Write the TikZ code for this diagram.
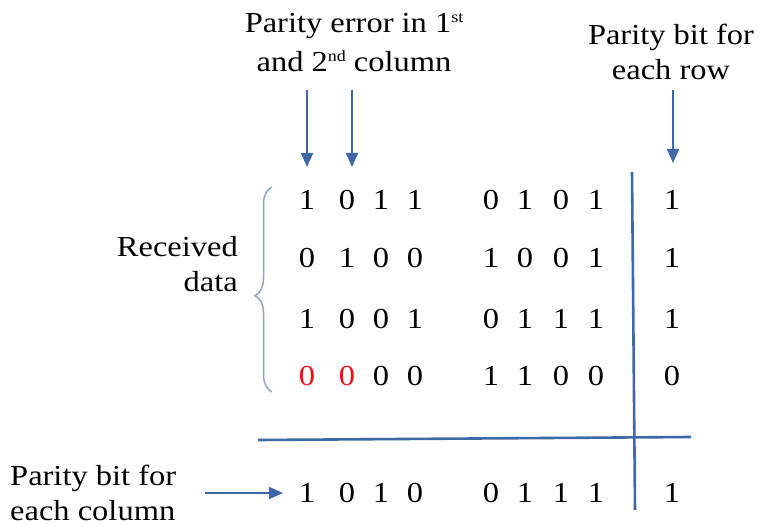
\documentclass[tikz,border=0pt]{standalone}
\usepackage{fontspec}
\setmainfont{Liberation Serif}[FakeStretch=1.12]
\usetikzlibrary{arrows.meta,decorations.pathreplacing}
\definecolor{lineblue}{HTML}{3F68A8}
\definecolor{braceblue}{HTML}{8CA6CC}
\definecolor{errred}{HTML}{F01010}
\newcommand\supx[1]{\raisebox{10pt}{\fontsize{16}{16}\selectfont #1}}
\newcommand\bitrow[3]{%
  \foreach \b [count=\i] in {#3} {%
    \pgfmathsetmacro\xx{{307,347,381,415,491,525,561,596,672}[\i-1]}%
    \node[bit] (#1-\i) at (\xx,#2) {\b};}}
\begin{document}
\begin{tikzpicture}[x=1pt,y=-1pt,
  lbl/.style={font=\fontsize{29}{35}\selectfont, inner sep=0pt, anchor=base},
  bit/.style={font=\fontsize{29}{35}\selectfont, inner sep=0pt, anchor=base},
  ptr/.style={draw=lineblue, line width=2pt, -{Triangle[length=14pt,width=12pt]}},
  rule/.style={draw=lineblue, line width=2.6pt}]
\useasboundingbox (0,0) rectangle (765,526);
% labels
\node[lbl] (t1a) at (354,33) {Parity error in 1\supx{st}};
\node[lbl] (t1b) at (354,72) {and 2\supx{nd} column};
\node[lbl] (t2a) at (671,45) {Parity bit for};
\node[lbl] (t2b) at (671,80) {each row};
\node[lbl, anchor=base east] (r1) at (238,257) {Received};
\node[lbl, anchor=base east] (r2) at (238,292) {data};
\node[lbl, anchor=base west] (c1) at (10,485) {Parity bit for};
\node[lbl, anchor=base west] (c2) at (10,520) {each column};
% bits
\bitrow{ra}{210}{1,0,1,1,0,1,0,1,1}
\bitrow{rb}{268}{0,1,0,0,1,0,0,1,1}
\bitrow{rc}{328}{1,0,0,1,0,1,1,1,1}
\bitrow{rd}{385}{{\textcolor{errred}{0}},{\textcolor{errred}{0}},0,0,1,1,0,0,0}
\bitrow{re}{502}{1,0,1,0,0,1,1,1,1}
% arrows
\coordinate (a1s) at (307,90);  \coordinate (a1e) at (307,167);
\coordinate (a2s) at (352,90);  \coordinate (a2e) at (352,167);
\coordinate (a3s) at (673,90);  \coordinate (a3e) at (673,163);
\coordinate (a4s) at (205,493); \coordinate (a4e) at (283,493);
\draw[ptr] (a1s) -- (a1e);
\draw[ptr] (a2s) -- (a2e);
\draw[ptr] (a3s) -- (a3e);
\draw[ptr] (a4s) -- (a4e);
% rules
\coordinate (vt) at (632,172); \coordinate (vb) at (635,510);
\coordinate (hl) at (258,440); \coordinate (hr) at (691,437);
\draw[rule] (vt) -- (vb);
\draw[rule] (hl) -- (hr);
% brace
\coordinate (bb) at (272,392); \coordinate (bt) at (272,187);
\draw[braceblue, line width=1.5pt, decorate,
  decoration={brace, amplitude=17pt, aspect=0.47}] (bb) -- (bt);
\end{tikzpicture}
\end{document}
